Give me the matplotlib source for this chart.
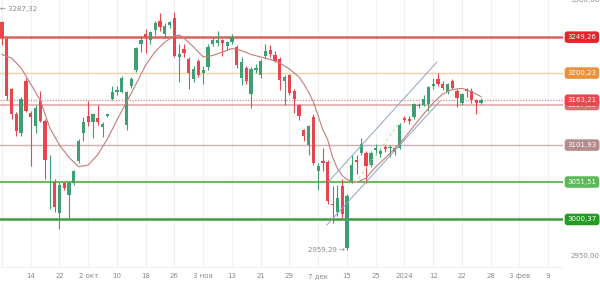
import matplotlib
matplotlib.use('Agg')
import matplotlib.pyplot as plt
import numpy as np

# daily candles, index = trading day (0 = 6 sep 2023)
opens = [3270, 3247, 3179, 3144, 3119, 3190, 3146, 3128, 3162, 3135,
         3066, 3052, 3009, 3050, 3034, 3050, 3080, 3119, 3142, 3134,
         3139, 3126, 3142, 3165, 3175, 3175, 3130, 3182, 3204, 3240,
         3253, 3246, 3259, 3272, 3254, 3266, 3275, 3222, 3233, 3220,
         3192, 3217, 3200, 3208, 3240, 3241, 3245, 3237, 3242, 3236,
         3194, 3207, 3171, 3205, 3198, 3223, 3232, 3225, 3220, 3189,
         3197, 3176, 3156, 3122, 3102, 3140, 3066, 3080, 3079, 3022,
         3011, 3046, 2962, 3052, 3081, 3091, 3091, 3075, 3095, 3090,
         3100, 3098, 3093, 3098, 3139, 3138, 3140, 3155, 3157, 3158,
         3182, 3192, 3186, 3175, 3189, 3176, 3160, 3178, 3176, 3163,
         3160]
closes = [3248, 3169, 3144, 3121, 3165, 3149, 3140, 3153, 3135, 3082,
          3067, 3018, 3048, 3044, 3050, 3066, 3107, 3133, 3133, 3144,
          3134, 3131, 3144, 3174, 3177, 3194, 3174, 3192, 3234, 3246,
          3250, 3256, 3269, 3263, 3264, 3270, 3224, 3226, 3227, 3201,
          3206, 3198, 3205, 3236, 3246, 3245, 3241, 3242, 3249, 3211,
          3215, 3189, 3206, 3207, 3217, 3231, 3226, 3217, 3191, 3195,
          3173, 3165, 3142, 3114, 3128, 3078, 3073, 3077, 3025, 3020,
          3030, 3008, 3032, 3075, 3079, 3104, 3073, 3091, 3098, 3094,
          3097, 3100, 3098, 3130, 3136, 3135, 3158, 3157, 3165, 3181,
          3185, 3185, 3180, 3185, 3180, 3166, 3171, 3176, 3163, 3159,
          3163.21]
highs = [3272, 3250, 3180, 3147, 3167, 3193, 3148, 3157, 3176, 3137,
         3089, 3055, 3051, 3052, 3053, 3068, 3110, 3140, 3162, 3146,
         3156, 3134, 3145, 3183, 3183, 3196, 3176, 3195, 3236, 3251,
         3261, 3258, 3271, 3282, 3268, 3272, 3283, 3240, 3240, 3222,
         3210, 3219, 3210, 3240, 3250, 3257, 3247, 3244, 3253, 3238,
         3222, 3210, 3208, 3212, 3220, 3240, 3239, 3230, 3222, 3198,
         3199, 3178, 3158, 3124, 3130, 3145, 3078, 3098, 3082, 3046,
         3047, 3055, 3035, 3088, 3089, 3112, 3094, 3094, 3103, 3097,
         3102, 3102, 3101, 3132, 3141, 3141, 3160, 3160, 3170, 3183,
         3194, 3200, 3189, 3187, 3192, 3179, 3173, 3180, 3180, 3165,
         3166]
lows = [3238, 3163, 3137, 3114, 3115, 3147, 3073, 3118, 3133, 3055,
        3015, 3011, 2988, 3040, 3000, 3048, 3077, 3107, 3128, 3112,
        3129, 3113, 3140, 3163, 3170, 3173, 3123, 3180, 3202, 3229,
        3227, 3240, 3252, 3258, 3248, 3262, 3222, 3188, 3222, 3178,
        3188, 3195, 3185, 3205, 3237, 3237, 3224, 3232, 3240, 3207,
        3184, 3186, 3153, 3200, 3194, 3220, 3222, 3215, 3177, 3157,
        3170, 3146, 3136, 3108, 3089, 3075, 3041, 3066, 3022, 2995,
        3005, 3003, 2959.29, 3050, 3062, 3088, 3050, 3072, 3088, 3085,
        3092, 3086, 3089, 3096, 3134, 3131, 3138, 3152, 3155, 3149,
        3179, 3183, 3177, 3172, 3178, 3154, 3157, 3168, 3160, 3145,
        3158]

# moving average
ma_idx = [0, 2, 4, 6, 8, 10, 12, 14, 16, 18, 20, 22, 24, 26, 28, 30, 32, 34, 36, 37, 38,
          40, 42, 44, 46, 48, 50, 52, 54, 56, 58, 60, 62, 63, 64, 65, 66, 67, 68, 69, 70,
          71, 72, 74, 76, 78, 80, 82, 84, 86, 88, 90, 92, 94, 96, 98, 100]
ma_val = [3225.6, 3220.8, 3207.2, 3185.3, 3162.8, 3125.2, 3102, 3085, 3072.4, 3074.7, 3089,
          3110.2, 3136.2, 3160.7, 3185.3, 3211.3, 3229.7, 3242.7, 3250.8, 3252.2, 3248.1,
          3235.8, 3222.2, 3224.2, 3229, 3233.8, 3231, 3225.6, 3222.2, 3218.8, 3214, 3205.8,
          3194.9, 3185.3, 3174.4, 3160.7, 3141.6, 3122.5, 3108.9, 3085.6, 3070, 3060.4, 3055,
          3050.8, 3057, 3072, 3084.3, 3097.3, 3111.6, 3128, 3144.4, 3159.4, 3171.7, 3177.8,
          3179.4, 3175, 3168]

# trend channel
chan_up_x = [68.1, 90.8]
chan_up_y = [3051.5, 3215.4]
chan_lo_x = [67.8, 91.45]
chan_lo_y = [2992.8, 3162.1]
chan_mid_x = [73.7, 83.1]
chan_mid_y = [3049.7, 3133.8]

# horizontal levels
levels = [3249.26, 3200.23, 3157.33, 3163.21, 3101.93, 3051.51, 3000.37]
level_labels = ['3249,26', '3200,23', '3157,33', '3163,21', '3101,93', '3051,51', '3000,37']
line_colors = ['#d8625d', '#f2d0aa', '#e3aaaa', '#d88a8a', '#cdb0b0', '#6dbd5e', '#3d9c3d']
box_colors = ['#e3242b', '#e8933c', '#d97070', '#e8474e', '#b38c8c', '#5db85a', '#229c22']

hi_label = 3287.32
lo_label = 2959.29
lo_idx = 72

tick_idx = [0, 6, 12, 18, 24, 30, 36, 42, 48, 54, 60, 66, 72, 78, 84, 90, 96, 102, 108, 114]
tick_lab = ['', '14', '22', '2 окт', '10', '18', '26', '3 ноя', '13', '21', '29', '7 дек',
            '15', '25', '2024', '12', '22', '28', '3 фев', '9']

GREEN = '#3d9f72'
RED = '#e4474c'

fig = plt.figure(figsize=(6, 2.85), dpi=100)
ax = fig.add_axes([0, 18 / 285, 563 / 600, 267 / 285])

o = np.array(opens)
c = np.array(closes)
h = np.array(highs)
l = np.array(lows)
x = np.arange(len(o))
cols = np.where(c >= o, GREEN, RED)

ax.vlines(x, l, h, colors=cols, lw=0.8, zorder=3)
body = np.maximum(np.abs(c - o), 1.2)
ax.bar(x, body, bottom=np.minimum(o, c), width=0.68, color=cols, zorder=4, linewidth=0)

ax.plot(ma_idx, ma_val, color='#c27d78', lw=0.8, zorder=5)
ax.plot(chan_up_x, chan_up_y, color='#8fa3c4', lw=0.7, zorder=5)
ax.plot(chan_lo_x, chan_lo_y, color='#8fa3c4', lw=0.7, zorder=5)
ax.plot(chan_mid_x, chan_mid_y, color='#b7d9a8', lw=0.7, ls=(0, (3, 3)), zorder=5)

widths = [1.8, 1.0, 1.2, 0.9, 1.0, 1.5, 1.8]
for i, (lv, lab) in enumerate(zip(levels, level_labels)):
    if lab == '3163,21':
        ax.axhline(lv, color=line_colors[i], lw=widths[i], ls=(0, (1, 1.2)), zorder=2)
    else:
        ax.axhline(lv, color=line_colors[i], lw=widths[i], zorder=2)
    ax.annotate(lab, xy=(1, lv), xycoords=('axes fraction', 'data'), xytext=(3.2, 0),
                textcoords='offset points', ha='left', va='center', fontsize=5, color='white',
                bbox=dict(boxstyle='round,pad=0.4', fc=box_colors[i], ec='none'),
                annotation_clip=False, zorder=10 + i)

for val, lab in [(2950, '2950,00'), (3300, '3300,00')]:
    ax.annotate(lab, xy=(1, val), xycoords=('axes fraction', 'data'), xytext=(5.5, 0),
                textcoords='offset points', ha='left', va='center', fontsize=5,
                color='#8a8a8a', annotation_clip=False)

ax.annotate('← ' + '3287,32', xy=(-0.4, hi_label), ha='left', va='center',
            fontsize=5, color='#8a8a8a', annotation_clip=False)
ax.annotate('2959,29' + ' →', xy=(lo_idx - 0.5, lo_label), ha='right', va='center',
            fontsize=5, color='#8a8a8a')

ax.set_xlim(-0.41, 117.1)
ax.set_ylim(2935.5, 3300)
ax.set_xticks(tick_idx)
ax.set_xticklabels(tick_lab)
ax.set_yticks([])
ax.tick_params(axis='x', length=0, labelsize=5, colors='#8a8a8a', pad=4.5)
ax.grid(axis='x', color='#f0f0f0', lw=0.8, zorder=0)
for s in ['top', 'left', 'right']:
    ax.spines[s].set_visible(False)
ax.spines['bottom'].set_color('#f0f0f0')
ax.set_facecolor('white')

fig.savefig('out.png', dpi=100)
